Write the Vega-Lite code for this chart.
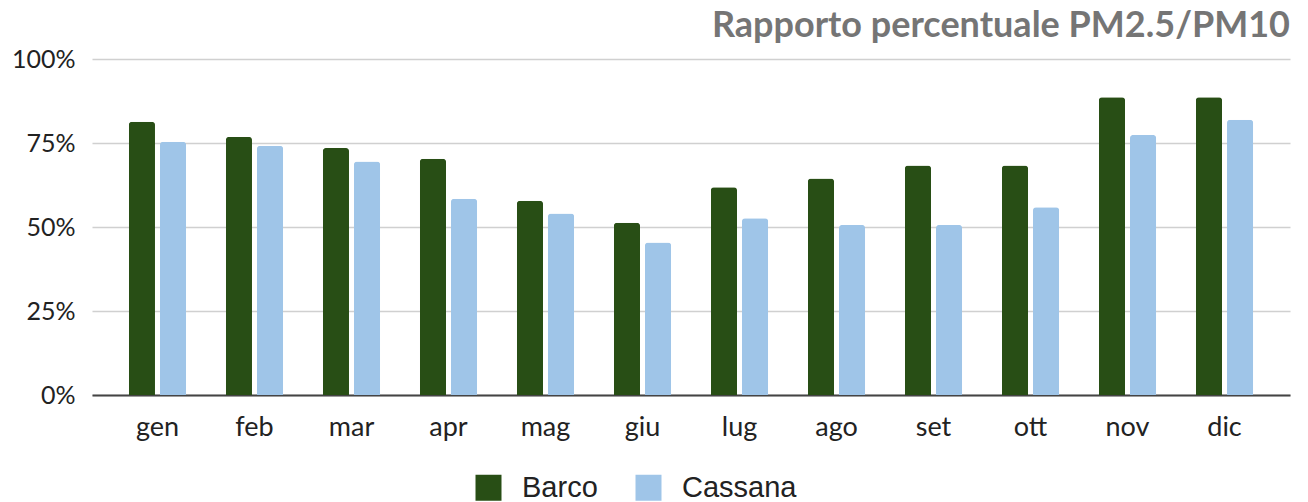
{
  "$schema": "https://vega.github.io/schema/vega-lite/v6.json",
  "width": 1198,
  "height": 336,
  "autosize": {"type": "none"},
  "padding": {"left": 92, "top": 59, "right": 18, "bottom": 107},
  "background": "white",
  "title": {
    "text": "Rapporto percentuale PM2.5/PM10",
    "anchor": "end",
    "frame": "group",
    "font": "Lato",
    "fontSize": 36,
    "fontWeight": "bold",
    "color": "#757575",
    "baseline": "bottom",
    "offset": 12,
    "dy": 46
  },
  "data": {
    "values": [
      {"mese": "gen", "stazione": "Barco", "valore": 0.813},
      {"mese": "gen", "stazione": "Cassana", "valore": 0.754},
      {"mese": "feb", "stazione": "Barco", "valore": 0.768},
      {"mese": "feb", "stazione": "Cassana", "valore": 0.742},
      {"mese": "mar", "stazione": "Barco", "valore": 0.735},
      {"mese": "mar", "stazione": "Cassana", "valore": 0.695},
      {"mese": "apr", "stazione": "Barco", "valore": 0.703},
      {"mese": "apr", "stazione": "Cassana", "valore": 0.584},
      {"mese": "mag", "stazione": "Barco", "valore": 0.578},
      {"mese": "mag", "stazione": "Cassana", "valore": 0.540},
      {"mese": "giu", "stazione": "Barco", "valore": 0.513},
      {"mese": "giu", "stazione": "Cassana", "valore": 0.454},
      {"mese": "lug", "stazione": "Barco", "valore": 0.618},
      {"mese": "lug", "stazione": "Cassana", "valore": 0.526},
      {"mese": "ago", "stazione": "Barco", "valore": 0.644},
      {"mese": "ago", "stazione": "Cassana", "valore": 0.506},
      {"mese": "set", "stazione": "Barco", "valore": 0.683},
      {"mese": "set", "stazione": "Cassana", "valore": 0.506},
      {"mese": "ott", "stazione": "Barco", "valore": 0.683},
      {"mese": "ott", "stazione": "Cassana", "valore": 0.559},
      {"mese": "nov", "stazione": "Barco", "valore": 0.886},
      {"mese": "nov", "stazione": "Cassana", "valore": 0.774},
      {"mese": "dic", "stazione": "Barco", "valore": 0.886},
      {"mese": "dic", "stazione": "Cassana", "valore": 0.819}
    ]
  },
  "mark": {"type": "bar", "cornerRadiusTopLeft": 3, "cornerRadiusTopRight": 3},
  "encoding": {
    "x": {
      "field": "mese",
      "type": "nominal",
      "sort": ["gen", "feb", "mar", "apr", "mag", "giu", "lug", "ago", "set", "ott", "nov", "dic"],
      "scale": {"paddingInner": 0.41, "paddingOuter": 0.38},
      "axis": {
        "title": null,
        "labelAngle": 0,
        "ticks": false,
        "tickSize": 0,
        "labelFont": "Lato",
        "labelFontSize": 27,
        "labelColor": "#222222",
        "labelBaseline": "alphabetic",
        "labelPadding": 40,
        "domainColor": "#444444",
        "domainWidth": 2,
        "grid": false
      }
    },
    "xOffset": {
      "field": "stazione",
      "type": "nominal",
      "scale": {"paddingInner": 0.16}
    },
    "y": {
      "field": "valore",
      "type": "quantitative",
      "scale": {"domain": [0, 1]},
      "axis": {
        "title": null,
        "values": [0, 0.25, 0.5, 0.75, 1],
        "format": ".0%",
        "domain": false,
        "ticks": false,
        "labelFont": "Lato",
        "labelFontSize": 25,
        "labelColor": "#222222",
        "labelPadding": 17,
        "gridColor": "#d0d0d0",
        "gridWidth": 1.5
      }
    },
    "color": {
      "field": "stazione",
      "type": "nominal",
      "scale": {"domain": ["Barco", "Cassana"], "range": ["#284e15", "#9fc5e8"]},
      "legend": {
        "title": null,
        "orient": "none",
        "direction": "horizontal",
        "legendX": 382,
        "legendY": 414,
        "padding": 0,
        "symbolType": "square",
        "symbolSize": 676,
        "symbolStrokeWidth": 0,
        "labelFont": "Liberation Sans",
        "labelFontSize": 29,
        "labelColor": "#222222",
        "labelOffset": 19,
        "columnPadding": 36
      }
    }
  },
  "config": {"view": {"stroke": null}}
}
